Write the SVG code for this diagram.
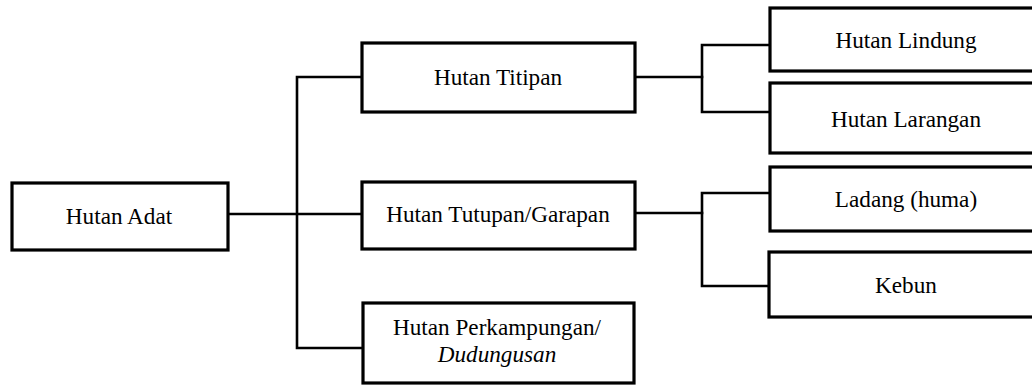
<svg xmlns="http://www.w3.org/2000/svg" width="1032" height="385" viewBox="0 0 1032 385">
<style>
.box{fill:#fff;stroke:#000;stroke-width:3.2}
.ln{fill:none;stroke:#000;stroke-width:2.6;stroke-linejoin:miter;stroke-linecap:square}
text{font-family:"Liberation Serif","Times New Roman",serif;font-size:23.2px;fill:#000;text-anchor:middle}
</style>
<rect width="1032" height="385" fill="#fff"/>
<g id="connectors">
<path class="ln" d="M228 214 H362"/>
<path class="ln" d="M362 77 H297 V348 H362"/>
<path class="ln" d="M635 77 H702"/>
<path class="ln" d="M770 45 H702 V112 H770"/>
<path class="ln" d="M635 213 H702"/>
<path class="ln" d="M770 193 H702 V286 H770"/>
</g>
<g id="hutan-adat"><rect class="box" x="12" y="183" width="216" height="67"/><text x="119" y="224">Hutan Adat</text></g>
<g id="hutan-titipan"><rect class="box" x="362" y="43" width="273" height="69"/><text x="498" y="85">Hutan Titipan</text></g>
<g id="hutan-tutupan"><rect class="box" x="362" y="182" width="273" height="67"/><text x="498" y="222">Hutan Tutupan/Garapan</text></g>
<g id="hutan-perkampungan"><rect class="box" x="363" y="303" width="271" height="80"/><text x="497" y="335">Hutan Perkampungan/</text><text x="497" y="362" font-style="italic">Dudungusan</text></g>
<g id="hutan-lindung"><rect class="box" x="770" y="8" width="272" height="63"/><text x="906" y="48">Hutan Lindung</text></g>
<g id="hutan-larangan"><rect class="box" x="770" y="83" width="272" height="70"/><text x="906" y="127">Hutan Larangan</text></g>
<g id="ladang"><rect class="box" x="770" y="167" width="272" height="64"/><text x="906" y="207">Ladang (huma)</text></g>
<g id="kebun"><rect class="box" x="769" y="252" width="273" height="65"/><text x="906" y="293">Kebun</text></g>
</svg>
